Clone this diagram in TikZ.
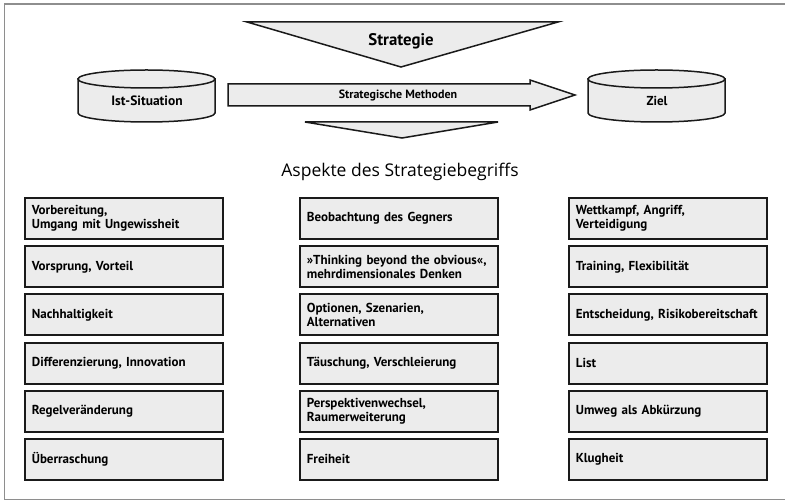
\documentclass[tikz,border=0pt]{standalone}
\usepackage{fontspec}
\setmainfont{PT Sans}
\newfontfamily\headfont{Open Sans}
\definecolor{boxfill}{HTML}{ECECEC}
\definecolor{framegray}{HTML}{8E8E8E}
\definecolor{inkline}{HTML}{1A1A1A}
\begin{document}
\begin{tikzpicture}[x=1pt,y=-1pt,
  shapestyle/.style={fill=boxfill, draw=inkline, line width=1.5pt, line join=miter},
  aspect/.style={draw=inkline, fill=boxfill, line width=1.7pt, anchor=north west,
    minimum width=198pt, minimum height=41pt, inner xsep=7pt, inner ysep=0pt,
    text width=184pt, align=left, font=\bfseries\fontsize{13}{14}\selectfont},
  lbl/.style={font=\bfseries\fontsize{13}{15}\selectfont, inner sep=0pt}
]
\useasboundingbox (0,0) rectangle (785,502);
% frame (open at right)
\draw[framegray, line width=1.5pt] (785,4) -- (4.5,4) -- (4.5,499.5) -- (785,499.5);

% top triangle
\filldraw[shapestyle] (247,22) -- (558,22) -- (401,67) -- cycle;
\node[lbl, font=\bfseries\fontsize{16.8}{19}\selectfont] (strat) at (401,41) {Strategie};

% arrow
\filldraw[shapestyle] (228,84) -- (530,84) -- (530,80) -- (575,95) -- (530,110) -- (530,106) -- (228,106) -- cycle;
\node[lbl, font=\bfseries\fontsize{12}{14}\selectfont] (meth) at (398,95.5) {Strategische Methoden};

% bottom triangle
\filldraw[shapestyle] (305,122) -- (498,122) -- (402,138) -- cycle;

% cylinders
\filldraw[shapestyle] (78,79) -- (78,113) arc[start angle=180,end angle=360,x radius=68.5pt,y radius=9pt] -- (215,79) -- cycle;
\filldraw[shapestyle] (146.5,79) ellipse [x radius=68.5pt, y radius=9pt];
\node[lbl, font=\bfseries\fontsize{13.5}{15}\selectfont] (ist) at (147,101) {Ist-Situation};

\filldraw[shapestyle] (588,79) -- (588,113) arc[start angle=180,end angle=360,x radius=68.5pt,y radius=9pt] -- (725,79) -- cycle;
\filldraw[shapestyle] (656.5,79) ellipse [x radius=68.5pt, y radius=9pt];
\node[lbl] (ziel) at (657,101) {Ziel};

% heading
\node[inner sep=0pt, font=\headfont\fontsize{17.5}{20}\selectfont] (head) at (400,172) {Aspekte des Strategiebegriffs};

% left column
\node[aspect] (l1) at (24,197) {Vorbereitung,\\Umgang mit Ungewissheit};
\node[aspect] (l2) at (24,245.5) {Vorsprung, Vorteil};
\node[aspect] (l3) at (24,293.5) {Nachhaltigkeit};
\node[aspect] (l4) at (24,342) {Differenzierung, Innovation};
\node[aspect] (l5) at (24,390) {Regelveränderung};
\node[aspect] (l6) at (24,438) {Überraschung};
% middle column
\node[aspect] (m1) at (299,197) {Beobachtung des Gegners};
\node[aspect] (m2) at (299,245.5) {»Thinking beyond the obvious«,\\mehrdimensionales Denken};
\node[aspect] (m3) at (299,293.5) {Optionen, Szenarien,\\Alternativen};
\node[aspect] (m4) at (299,342) {Täuschung, Verschleierung};
\node[aspect] (m5) at (299,390) {Perspektivenwechsel,\\Raumerweiterung};
\node[aspect] (m6) at (299,438) {Freiheit};
% right column
\node[aspect] (r1) at (568,197) {Wettkampf, Angriff,\\Verteidigung};
\node[aspect] (r2) at (568,245.5) {Training, Flexibilität};
\node[aspect] (r3) at (568,293.5) {Entscheidung, Risikobereitschaft};
\node[aspect] (r4) at (568,342) {List};
\node[aspect] (r5) at (568,390) {Umweg als Abkürzung};
\node[aspect] (r6) at (568,438) {Klugheit};
\end{tikzpicture}
\end{document}
